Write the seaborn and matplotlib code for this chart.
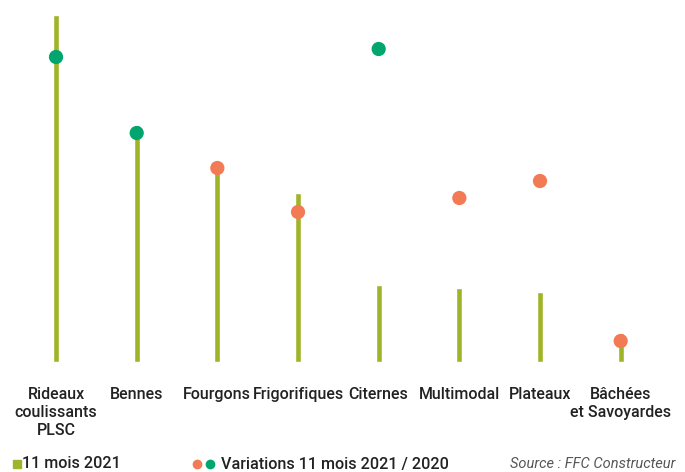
import matplotlib
matplotlib.use("Agg")
import matplotlib.pyplot as plt
from matplotlib.lines import Line2D
import seaborn as sns
import pandas as pd

categories = ["Rideaux\ncoulissants\nPLSC", "Bennes", "Fourgons", "Frigorifiques",
              "Citernes", "Multimodal", "Plateaux", "Bâchées\net Savoyardes"]
volumes_2021 = [347, 237, 192, 169, 77, 74, 70, 29]
variations = [305, 229, 194, 150, 313, 164, 181, 21]
variation_sign = ["pos", "pos", "neg", "neg", "pos", "neg", "neg", "neg"]

bar_color = "#A0B42A"
pos_color = "#00A66E"
neg_color = "#F27A54"

sns.set_theme(style="white")
plt.rcParams["font.family"] = ["Roboto", "DejaVu Sans"]

df = pd.DataFrame({"cat": categories, "vol": volumes_2021,
                   "var": variations, "sign": variation_sign})

fig = plt.figure(figsize=(6.85, 4.72), dpi=100)
ax = fig.add_axes([15.7 / 685, 1 - 362 / 472, 645.3 / 685, 350 / 472])

sns.barplot(data=df, x="cat", y="vol", color=bar_color, width=0.075,
            saturation=1, ax=ax)
sns.scatterplot(data=df, x="cat", y="var", hue="sign",
                palette={"pos": pos_color, "neg": neg_color},
                s=105, linewidth=0, legend=False, ax=ax, zorder=3)

ax.set_xlim(-0.5, 7.5)
ax.set_ylim(0, 350)
ax.set_yticks([])
ax.set_xlabel("")
ax.set_ylabel("")
ax.tick_params(axis="x", length=0, pad=18, labelsize=11.5, colors="#222222")
for lbl in ax.get_xticklabels():
    lbl.set_linespacing(1.25)
    lbl.set_fontweight("medium")
sns.despine(ax=ax, left=True, bottom=True)

# legend drawn by hand
ly = 1 - 464 / 472
fig.add_artist(Line2D([17 / 685], [ly], marker="s", color=bar_color,
                      markersize=5.5, linestyle="", transform=fig.transFigure))
fig.text(22 / 685, ly, "11 mois 2021", fontsize=11.6, fontweight="medium",
         color="#222222", va="center", ha="left")
fig.add_artist(Line2D([197 / 685], [ly], marker="o", color=neg_color,
                      markersize=6, linestyle="", transform=fig.transFigure))
fig.add_artist(Line2D([210 / 685], [ly], marker="o", color=pos_color,
                      markersize=6, linestyle="", transform=fig.transFigure))
fig.text(221 / 685, ly, "Variations 11 mois 2021 / 2020", fontsize=11.6,
         fontweight="medium", color="#222222", va="center", ha="left")

fig.text(510 / 685, 1 - 471 / 472, "Source : FFC Constructeur", fontsize=10.5,
         style="italic", color="#555555", va="bottom", ha="left")

fig.savefig("out.png", dpi=100)
